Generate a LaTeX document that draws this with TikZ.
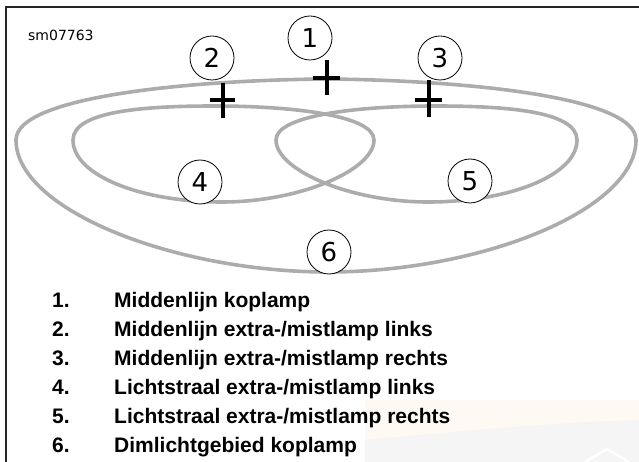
\documentclass[tikz,border=0pt]{standalone}
\usepackage{fontspec}
\setmainfont{DejaVu Sans}
\newfontfamily\legendfont{Liberation Sans}
\usetikzlibrary{positioning}
\definecolor{beamgray}{RGB}{172,172,172}
\definecolor{wmorange}{RGB}{255,249,243}
\definecolor{wmgray}{RGB}{245,245,245}
\tikzset{
  beam/.style={line width=3.6pt, beamgray},
  numc/.style={circle, draw, line width=0.8pt, fill=white, minimum size=44pt, inner sep=0pt, font=\fontsize{26}{26}\selectfont},
  crossmark/.style={line width=4pt, black},
  item/.style={anchor=base west, inner sep=0pt, font=\legendfont\bfseries\fontsize{21}{21}\selectfont},
}

\begin{document}
\begin{tikzpicture}[x=1pt,y=-1pt]
\useasboundingbox (0,0) rectangle (639,462);
% faint watermark, bottom right
\fill[wmorange] (365,400) rectangle (639,462);
\fill[wmgray] (365,440) .. controls (450,432) and (560,422) .. (639,420) -- (639,462) -- (365,462) -- cycle;
\draw[white, line width=2.5pt] (585,462) -- (607,449) -- (629,462);
% frame
\draw[line width=1.5pt, black!85] (639,7) -- (6,7) -- (6,462);
\node[anchor=west, inner sep=0pt, font=\fontsize{14}{14}\selectfont] (code) at (28,35) {sm07763};

% dipped beam area
\draw[beam] (16,140) .. controls (16,95) and (200,80) .. (326,79)
  .. controls (452,80) and (636,95) .. (636,140)
  .. controls (636,210) and (481,272) .. (328,272)
  .. controls (175,272) and (16,210) .. (16,140) -- cycle;
% left beam
\draw[beam] (73,140) .. controls (73,110) and (150,106) .. (215,106)
  .. controls (290,106) and (374,115) .. (374,140)
  .. controls (374,170) and (300,202) .. (222,202)
  .. controls (140,202) and (73,175) .. (73,140) -- cycle;
% right beam
\draw[beam] (577,140) .. controls (577,110) and (500,106) .. (435,106)
  .. controls (360,106) and (276,115) .. (276,140)
  .. controls (276,170) and (350,202) .. (428,202)
  .. controls (510,202) and (577,175) .. (577,140) -- cycle;

% centre lines
\coordinate (p1) at (326.5,78);
\coordinate (p2) at (222.5,100);
\coordinate (p3) at (428.5,100);
\draw[crossmark] (p1) ++(-13.5,0) -- ++(27,0) (p1) ++(0,-18) -- ++(0,35);
\draw[crossmark] (p2) ++(-12.5,0) -- ++(25,0) (p2) ++(0,-17) -- ++(0,35);
\draw[crossmark] (p3) ++(-13.5,0) -- ++(27,0) (p3) ++(0,-20) -- ++(0,37);

% callouts
\node[numc] (n1) at (310,38) {1};
\node[numc] (n2) at (212,58) {2};
\node[numc] (n3) at (440,58) {3};
\node[numc] (n4) at (200,182) {4};
\node[numc] (n5) at (470,181) {5};
\node[numc] (n6) at (329,252) {6};

% legend
\node[item] (k1) at (52,307) {1.};
\node[item] (t1) at (114,307) {Middenlijn koplamp};
\node[item] (k2) at (52,336) {2.};
\node[item] (t2) at (114,336) {Middenlijn extra-/mistlamp links};
\node[item] (k3) at (52,365) {3.};
\node[item] (t3) at (114,365) {Middenlijn extra-/mistlamp rechts};
\node[item] (k4) at (52,394) {4.};
\node[item] (t4) at (114,394) {Lichtstraal extra-/mistlamp links};
\node[item] (k5) at (52,423) {5.};
\node[item] (t5) at (114,423) {Lichtstraal extra-/mistlamp rechts};
\node[item] (k6) at (52,452) {6.};
\node[item] (t6) at (114,452) {Dimlichtgebied koplamp};
\end{tikzpicture}
\end{document}
